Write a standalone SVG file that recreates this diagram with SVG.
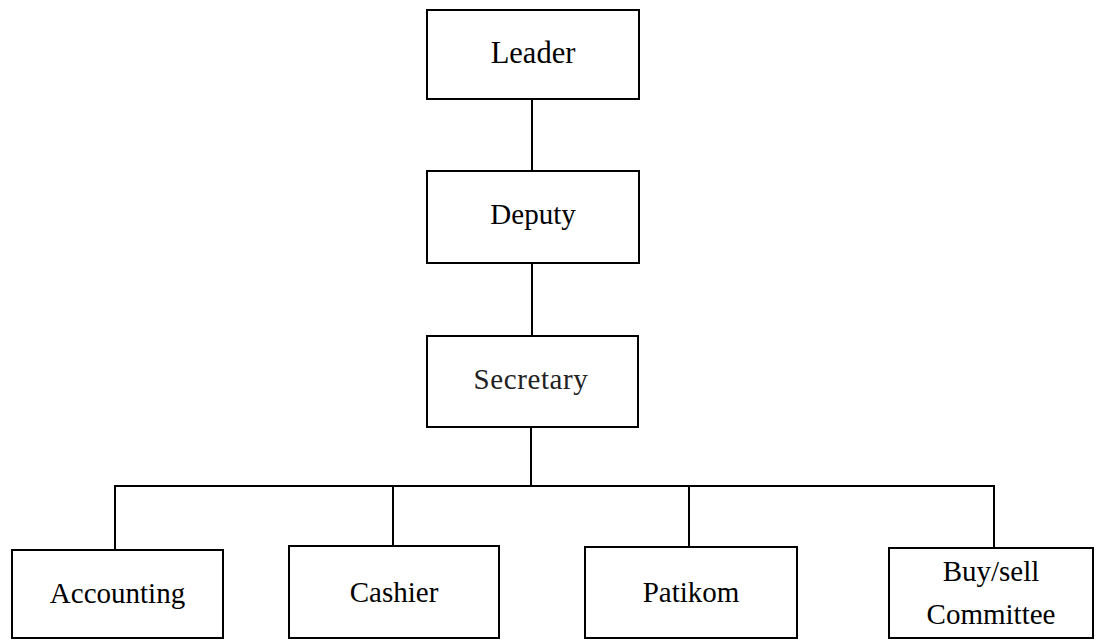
<svg xmlns="http://www.w3.org/2000/svg" width="1096" height="640" viewBox="0 0 1096 640">
  <style>
    .box { fill: #ffffff; stroke: #000000; stroke-width: 2; }
    .link { fill: none; stroke: #000000; stroke-width: 2; }
    .label { font-family: "Liberation Serif", "Times New Roman", serif; font-size: 29px; fill: #000000; text-anchor: middle; }
    .top { font-size: 30.5px; }
    .light { fill: #222222; letter-spacing: 0.6px; }
  </style>
  <rect width="1096" height="640" fill="#ffffff"/>

  <!-- reporting lines -->
  <g id="connectors">
    <line class="link" x1="532" y1="99" x2="532" y2="171"/>
    <line class="link" x1="532" y1="263" x2="532" y2="336"/>
    <line class="link" x1="531" y1="427" x2="531" y2="486"/>
    <polyline class="link" points="115,550 115,486 994,486 994,548"/>
    <line class="link" x1="393" y1="486" x2="393" y2="546"/>
    <line class="link" x1="689" y1="486" x2="689" y2="547"/>
  </g>

  <g id="leader">
    <rect class="box" x="427" y="10" width="212" height="89"/>
    <text class="label top" x="533" y="63">Leader</text>
  </g>

  <g id="deputy">
    <rect class="box" x="427" y="171" width="212" height="92"/>
    <text class="label" x="533" y="224">Deputy</text>
  </g>

  <g id="secretary">
    <rect class="box" x="427" y="336" width="211" height="91"/>
    <text class="label light" x="531" y="389">Secretary</text>
  </g>

  <g id="accounting">
    <rect class="box" x="12" y="550" width="211" height="88"/>
    <text class="label" x="117.5" y="603">Accounting</text>
  </g>

  <g id="cashier">
    <rect class="box" x="289" y="546" width="210" height="92"/>
    <text class="label" x="394" y="602">Cashier</text>
  </g>

  <g id="patikom">
    <rect class="box" x="585" y="547" width="212" height="91"/>
    <text class="label" x="691" y="602">Patikom</text>
  </g>

  <g id="buy-sell-committee">
    <rect class="box" x="889" y="548" width="204" height="90"/>
    <text class="label" x="991" y="581">Buy/sell</text>
    <text class="label" x="991" y="624">Committee</text>
  </g>
</svg>
